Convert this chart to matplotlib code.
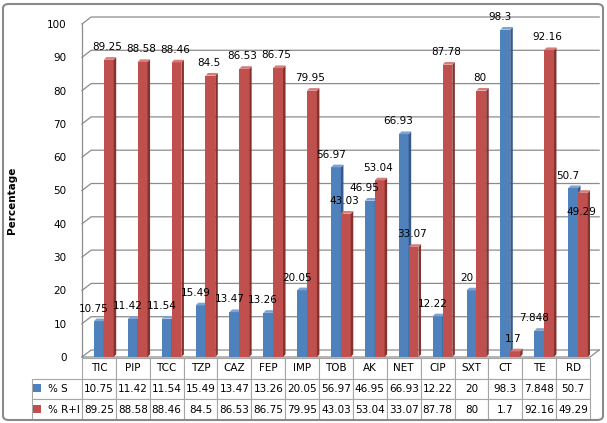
import matplotlib
matplotlib.use("Agg")
import matplotlib.pyplot as plt
from matplotlib.patches import Polygon, Rectangle, FancyBboxPatch

drugs = ["TIC", "PIP", "TCC", "TZP", "CAZ", "FEP", "IMP", "TOB", "AK", "NET",
         "CIP", "SXT", "CT", "TE", "RD"]
pct_s = [10.75, 11.42, 11.54, 15.49, 13.47, 13.26, 20.05, 56.97, 46.95, 66.93,
         12.22, 20, 98.3, 7.848, 50.7]
pct_ri = [89.25, 88.58, 88.46, 84.5, 86.53, 86.75, 79.95, 43.03, 53.04, 33.07,
          87.78, 80, 1.7, 92.16, 49.29]
series_names = ["% S", "% R+I"]

blue = ("#4F81BD", "#36598A", "#7EA2D2")   # front, side, top
red = ("#C0504D", "#86322F", "#D77C79")
grid_col = "#8C8C8C"

W, H = 607, 423
fig = plt.figure(figsize=(W / 100, H / 100), dpi=100)
ax = fig.add_axes([82 / W, 1 - 357 / H, 508 / W, 333 / H])

ax.set_xlim(-0.5, len(drugs) - 0.5)
ax.set_ylim(0, 100)
for s in ax.spines.values():
    s.set_visible(False)
ax.set_xticks([])
ax.set_yticks(range(0, 101, 10))
ax.tick_params(axis="y", length=0, pad=11, labelsize=7.5)
ax.set_ylabel("Percentage", fontsize=7.5, fontweight="bold")
ax.yaxis.set_label_coords(-0.128, 0.47)

# 3d walls / gridlines
dx, dy = 0.27, 2.1
x0, x1 = ax.get_xlim()
for v in range(0, 101, 10):
    ax.plot([x0, x0 + dx, x1 + dx], [v, v + dy, v + dy], color=grid_col,
            lw=0.9, clip_on=False, zorder=1)
ax.plot([x0, x0], [0, 100], color=grid_col, lw=0.9, clip_on=False, zorder=1)
ax.plot([x0, x1, x1 + dx], [0, 0, dy], color=grid_col, lw=0.9, clip_on=False, zorder=1)

bw = 0.29
sd, td = 0.075, 0.8


def bar3d(xc, h, cols):
    b = ax.bar(xc, h, width=bw, color=cols[0], zorder=3)[0]
    xl, xr = xc - bw / 2, xc + bw / 2
    ax.add_patch(Polygon([(xr, 0), (xr + sd, td), (xr + sd, h + td), (xr, h)],
                         closed=True, facecolor=cols[1], edgecolor="none", zorder=3))
    ax.add_patch(Polygon([(xl, h), (xl + sd, h + td), (xr + sd, h + td), (xr, h)],
                         closed=True, facecolor=cols[2], edgecolor="none", zorder=3))
    return b


# label tweaks where excel put them elsewhere
label_shift = {("ri", 14): -9.5}

for i, (s, r) in enumerate(zip(pct_s, pct_ri)):
    bar3d(i, s, blue)
    bar3d(i + bw, r, red)

for i, (s, r) in enumerate(zip(pct_s, pct_ri)):
    ax.text(i - 0.15, s + 2.3 + label_shift.get(("s", i), 0), f"{s:g}",
            ha="center", va="bottom", fontsize=7.5, zorder=5)
    ax.text(i + bw - 0.05, r + 2.3 + label_shift.get(("ri", i), 0), f"{r:g}",
            ha="center", va="bottom", fontsize=7.5, zorder=5)

# data table under the chart
rl_w = 50 / 508
cell_w = 1 / len(drugs)
tab_h = 62 / 333
tbl = ax.table(cellText=[[f"{v:g}" for v in pct_s], [f"{v:g}" for v in pct_ri]],
               rowLabels=["    " + n for n in series_names],
               colLabels=drugs,
               colWidths=[cell_w] * len(drugs),
               rowLoc="left", cellLoc="center", colLoc="center",
               bbox=[0, -tab_h - 0.003, 1, tab_h])
tbl.auto_set_font_size(False)
tbl.set_fontsize(7.5)
tbl._autoColumns = []
for (r, c), cell in tbl.get_celld().items():
    cell.set_edgecolor("#A6A6A6")
    cell.set_linewidth(0.8)
    if c == -1:
        cell.set_width(rl_w)
        cell.PAD = 0.05

# legend keys in row label cells
for k, col in enumerate([blue[0], red[0]]):
    yc = 388 + k * 21
    fig.patches.append(Rectangle((33 / W, 1 - (yc + 4) / H), 8 / W, 8 / H,
                                 transform=fig.transFigure, facecolor=col,
                                 edgecolor="none"))

fig.patches.append(FancyBboxPatch((3 / W, 3 / H), 600 / W, 416 / H,
                                  boxstyle="round,pad=0,rounding_size=0.01",
                                  transform=fig.transFigure, facecolor="none",
                                  edgecolor="#8A8A8A", lw=1.5))

fig.savefig("out.png", dpi=100)
